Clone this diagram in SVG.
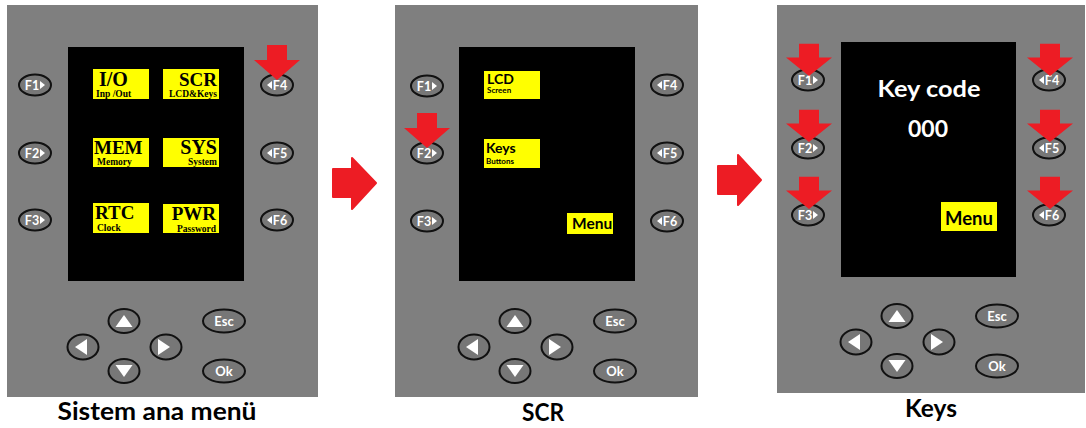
<svg xmlns="http://www.w3.org/2000/svg" width="1086" height="428" viewBox="0 0 1086 428">
<style>
.panel{fill:#7f7f7f}
.screen{fill:#000}
.ybox{fill:#ffff00}
.btn{fill:#777;stroke:#111;stroke-width:2}
.btxt{font-family:Lato,"Open Sans",sans-serif;font-weight:700;fill:#fff;text-anchor:middle}
.tri{fill:#fff}
.red{fill:#ed1c24}
.ser{font-family:"Liberation Serif",serif;font-weight:700;fill:#000}
.sans{font-family:Lato,"Open Sans",sans-serif;font-weight:700;fill:#000}
.wt{font-family:Lato,"Open Sans",sans-serif;font-weight:700;fill:#fff;text-anchor:middle}
.cap{font-family:Lato,"Open Sans",sans-serif;font-weight:700;fill:#000;text-anchor:middle;font-size:24px}
</style>
<defs>
<path id="ptr" d="M-10,-35 H10 V-20 H23 L0,0 L-23,-20 H-10 Z"/>
<g id="nav">
<ellipse class="btn" cx="124" cy="321" rx="15.5" ry="12"/>
<polygon class="tri" points="124,315 115.5,327 132.5,327"/>
<ellipse class="btn" cx="83" cy="347" rx="15.5" ry="12.5"/>
<polygon class="tri" points="75,347 87,339 87,355"/>
<ellipse class="btn" cx="166" cy="347" rx="15.5" ry="12.5"/>
<polygon class="tri" points="158,339 170,347 158,355"/>
<ellipse class="btn" cx="124" cy="371" rx="15.5" ry="12"/>
<polygon class="tri" points="115.5,365 132.5,365 124,377"/>
<ellipse class="btn" cx="224" cy="321" rx="21" ry="11.5"/>
<ellipse class="btn" cx="224" cy="371" rx="21" ry="11.5"/>
</g>
</defs>

<g id="panel-main">
<rect class="panel" x="7" y="5" width="311" height="392"/>
<rect class="screen" x="68" y="47" width="176" height="234"/>
<g id="item-io"><rect class="ybox" x="93" y="69" width="56" height="30"/>
<text class="ser" x="99" y="86" font-size="20">I/O</text>
<text class="ser" x="96" y="96.5" font-size="9.5">Inp /Out</text></g>
<g id="item-scr"><rect class="ybox" x="163" y="69" width="56" height="30"/>
<text class="ser" x="217" y="86" font-size="19" text-anchor="end">SCR</text>
<text class="ser" x="217" y="96.5" font-size="9.5" text-anchor="end">LCD&amp;Keys</text></g>
<g id="item-mem"><rect class="ybox" x="93" y="138" width="56" height="29"/>
<text class="ser" x="94" y="154" font-size="19">MEM</text>
<text class="ser" x="97" y="165" font-size="9.5">Memory</text></g>
<g id="item-sys"><rect class="ybox" x="163" y="138" width="56" height="29"/>
<text class="ser" x="217" y="154" font-size="20" text-anchor="end">SYS</text>
<text class="ser" x="217" y="165" font-size="9.5" text-anchor="end">System</text></g>
<g id="item-rtc"><rect class="ybox" x="93" y="203" width="56" height="30"/>
<text class="ser" x="95" y="219" font-size="19">RTC</text>
<text class="ser" x="97" y="231" font-size="9.5">Clock</text></g>
<g id="item-pwr"><rect class="ybox" x="163" y="204" width="56" height="29"/>
<text class="ser" x="216" y="220" font-size="19" text-anchor="end">PWR</text>
<text class="ser" x="216" y="231.5" font-size="9.5" text-anchor="end">Password</text></g>
<g id="m-f1"><ellipse class="btn" cx="35" cy="85" rx="16" ry="10.5"/><text class="btxt" x="32" y="89.5" font-size="12.5">F1</text><polygon class="tri" points="40,81 45,85 40,89"/></g>
<g id="m-f2"><ellipse class="btn" cx="35" cy="153" rx="16" ry="10.5"/><text class="btxt" x="32" y="157.5" font-size="12.5">F2</text><polygon class="tri" points="40,149 45,153 40,157"/></g>
<g id="m-f3"><ellipse class="btn" cx="35" cy="220" rx="16" ry="10.5"/><text class="btxt" x="32" y="224.5" font-size="12.5">F3</text><polygon class="tri" points="40,216 45,220 40,224"/></g>
<g id="m-f4"><ellipse class="btn" cx="277" cy="85" rx="16" ry="10.5"/><text class="btxt" x="280" y="89.5" font-size="12.5">F4</text><polygon class="tri" points="272,81 267,85 272,89"/></g>
<g id="m-f5"><ellipse class="btn" cx="277" cy="153" rx="16" ry="10.5"/><text class="btxt" x="280" y="157.5" font-size="12.5">F5</text><polygon class="tri" points="272,149 267,153 272,157"/></g>
<g id="m-f6"><ellipse class="btn" cx="277" cy="220" rx="16" ry="10.5"/><text class="btxt" x="280" y="224.5" font-size="12.5">F6</text><polygon class="tri" points="272,216 267,220 272,224"/></g>
<g id="m-nav"><use href="#nav"/>
<text class="btxt" x="224" y="325.5" font-size="13">Esc</text>
<text class="btxt" x="224" y="375.5" font-size="13">Ok</text></g>
<use class="red" href="#ptr" transform="translate(277,80)"/>
<text class="cap" x="157" y="420" textLength="199" lengthAdjust="spacingAndGlyphs">Sistem ana menü</text>
</g>

<g id="panel-scr">
<rect class="panel" x="395" y="5" width="303" height="392"/>
<rect class="screen" x="459" y="47" width="176" height="234"/>
<g id="item-lcd"><rect class="ybox" x="484" y="71" width="56" height="28"/>
<text class="sans" x="487" y="84" font-size="14">LCD</text>
<text class="sans" x="487" y="93" font-size="8">Screen</text></g>
<g id="item-keys"><rect class="ybox" x="484" y="139" width="56" height="29"/>
<text class="sans" x="486" y="152.5" font-size="14">Keys</text>
<text class="sans" x="486" y="164" font-size="8">Buttons</text></g>
<g id="item-menu2"><rect class="ybox" x="567" y="213" width="46" height="21"/>
<text class="sans" x="572" y="229" font-size="15.5">Menu</text></g>
<g id="s-f1"><ellipse class="btn" cx="427" cy="86" rx="16" ry="10.5"/><text class="btxt" x="424" y="90.5" font-size="12.5">F1</text><polygon class="tri" points="432,82 437,86 432,90"/></g>
<g id="s-f2"><ellipse class="btn" cx="427" cy="153" rx="16" ry="10.5"/><text class="btxt" x="424" y="157.5" font-size="12.5">F2</text><polygon class="tri" points="432,149 437,153 432,157"/></g>
<g id="s-f3"><ellipse class="btn" cx="427" cy="221" rx="16" ry="10.5"/><text class="btxt" x="424" y="225.5" font-size="12.5">F3</text><polygon class="tri" points="432,217 437,221 432,225"/></g>
<g id="s-f4"><ellipse class="btn" cx="667" cy="85" rx="16" ry="10.5"/><text class="btxt" x="670" y="89.5" font-size="12.5">F4</text><polygon class="tri" points="662,81 657,85 662,89"/></g>
<g id="s-f5"><ellipse class="btn" cx="667" cy="153" rx="16" ry="10.5"/><text class="btxt" x="670" y="157.5" font-size="12.5">F5</text><polygon class="tri" points="662,149 657,153 662,157"/></g>
<g id="s-f6"><ellipse class="btn" cx="667" cy="221" rx="16" ry="10.5"/><text class="btxt" x="670" y="225.5" font-size="12.5">F6</text><polygon class="tri" points="662,217 657,221 662,225"/></g>
<g id="s-nav" transform="translate(391,0)"><use href="#nav"/>
<text class="btxt" x="224" y="325.5" font-size="13">Esc</text>
<text class="btxt" x="224" y="375.5" font-size="13">Ok</text></g>
<use class="red" href="#ptr" transform="translate(427,148)"/>
<text class="cap" x="543" y="421" textLength="42" lengthAdjust="spacingAndGlyphs">SCR</text>
</g>

<g id="panel-keys">
<rect class="panel" x="777" y="5" width="308" height="388"/>
<rect class="screen" x="841" y="42" width="175" height="235"/>
<text class="wt" x="929" y="97" font-size="23" textLength="103" lengthAdjust="spacingAndGlyphs">Key code</text>
<text class="wt" x="928" y="137" font-size="23">000</text>
<g id="item-menu3"><rect class="ybox" x="941" y="202" width="56" height="29"/>
<text class="sans" x="969" y="225" font-size="18.5" text-anchor="middle">Menu</text></g>
<g id="k-f1"><ellipse class="btn" cx="808" cy="80" rx="16" ry="10.5"/><text class="btxt" x="805" y="84.5" font-size="12.5">F1</text><polygon class="tri" points="813,76 818,80 813,84"/></g>
<g id="k-f2"><ellipse class="btn" cx="808" cy="148" rx="16" ry="10.5"/><text class="btxt" x="805" y="152.5" font-size="12.5">F2</text><polygon class="tri" points="813,144 818,148 813,152"/></g>
<g id="k-f3"><ellipse class="btn" cx="808" cy="215" rx="16" ry="10.5"/><text class="btxt" x="805" y="219.5" font-size="12.5">F3</text><polygon class="tri" points="813,211 818,215 813,219"/></g>
<g id="k-f4"><ellipse class="btn" cx="1049" cy="80" rx="16" ry="10.5"/><text class="btxt" x="1052" y="84.5" font-size="12.5">F4</text><polygon class="tri" points="1044,76 1039,80 1044,84"/></g>
<g id="k-f5"><ellipse class="btn" cx="1049" cy="148" rx="16" ry="10.5"/><text class="btxt" x="1052" y="152.5" font-size="12.5">F5</text><polygon class="tri" points="1044,144 1039,148 1044,152"/></g>
<g id="k-f6"><ellipse class="btn" cx="1049" cy="215" rx="16" ry="10.5"/><text class="btxt" x="1052" y="219.5" font-size="12.5">F6</text><polygon class="tri" points="1044,211 1039,215 1044,219"/></g>
<g id="k-nav" transform="translate(773,-5)"><use href="#nav"/>
<text class="btxt" x="224" y="325.5" font-size="13">Esc</text>
<text class="btxt" x="224" y="375.5" font-size="13">Ok</text></g>
<use class="red" href="#ptr" transform="translate(809,76) scale(1,0.92)"/>
<use class="red" href="#ptr" transform="translate(809,142) scale(1,0.92)"/>
<use class="red" href="#ptr" transform="translate(809,209) scale(1,0.92)"/>
<use class="red" href="#ptr" transform="translate(1050,76) scale(1,0.92)"/>
<use class="red" href="#ptr" transform="translate(1050,142) scale(1,0.92)"/>
<use class="red" href="#ptr" transform="translate(1050,209) scale(1,0.92)"/>
<text class="cap" x="931" y="417" textLength="52" lengthAdjust="spacingAndGlyphs">Keys</text>
</g>

<g id="connectors">
<path class="red" stroke="#ed1c24" stroke-width="2" stroke-linejoin="round" d="M333,169 H352 V158 L376,183 L352,209 V197 H333 Z"/>
<path class="red" stroke="#ed1c24" stroke-width="2" stroke-linejoin="round" d="M718,166 H738 V155 L761,180 L738,205 V194 H718 Z"/>
</g>
</svg>
